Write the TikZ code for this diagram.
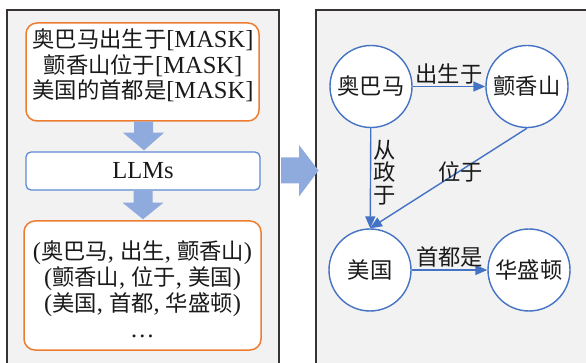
\documentclass[tikz,border=0pt]{standalone}
\usepackage{fontspec}
\setmainfont{Liberation Serif}
\newfontfamily\cjk{Noto Sans CJK SC}[Scale=0.91]
\usetikzlibrary{arrows.meta,calc}
\definecolor{panelc}{HTML}{383333}
\definecolor{panelbg}{HTML}{F2F2F2}
\definecolor{orangec}{HTML}{ED7D31}
\definecolor{lbluec}{HTML}{5B8BD5}
\definecolor{bluec}{HTML}{4472C4}
\definecolor{arrowc}{HTML}{8FAADC}
\definecolor{textc}{HTML}{1A1A1A}
\newcommand{\zhs}[1]{{\cjk #1}}
\begin{document}
\begin{tikzpicture}[x=1pt,y=-1pt,
  panel/.style={draw=panelc, line width=1.3pt, fill=panelbg},
  obox/.style={draw=orangec, line width=1.5pt, fill=white, rounded corners=11pt, inner sep=0pt},
  lbox/.style={draw=lbluec, line width=1.3pt, fill=white, rounded corners=5pt, inner sep=0pt, text=textc, font=\fontsize{24.5}{26}\selectfont},
  lefttext/.style={align=center, text=textc, inner sep=0pt},
  ent/.style={circle, draw=bluec, line width=1.4pt, fill=white, minimum size=82pt, inner sep=0pt, text=textc, font={\cjk\fontsize{24.5}{26}\selectfont}},
  rel/.style={draw=bluec, line width=1.4pt, -{Triangle[length=12pt,width=10pt]}},
  lab/.style={text=textc, inner sep=1pt, font={\cjk\fontsize{24.5}{22.5}\selectfont}},
  barrow/.style={fill=arrowc, draw=none}
]
\useasboundingbox (0,0) rectangle (586,363);
% panels
\path[panel] (7,10) rectangle (279,380);
\path[panel] (316,10) rectangle (600,380);
% big arrow between panels
\fill[barrow] (281,157.5) -- (299,157.5) -- (299,145) -- (318.5,170.5) -- (299,196.5) -- (299,183.5) -- (281,183.5) -- cycle;
% left column
\node[obox, minimum width=233pt, minimum height=98pt] (prompt) at (142.5,72) {};
\node[lefttext, font=\fontsize{24.5}{25.5}\selectfont] (prompttext) at (143,65.5)
  {\zhs{奥巴马出生于}[MASK]\\\zhs{颤香山位于}[MASK]\\\zhs{美国的首都是}[MASK]};
\node[lbox, minimum width=234pt, minimum height=38pt] (llm) at (143,171) {LLMs};
\node[obox, minimum width=237pt, minimum height=129pt] (triples) at (142.5,285.5) {};
\node[lefttext, font=\fontsize{24.5}{26}\selectfont] (triplestext) at (142.5,289)
  {(\zhs{奥巴马}, \zhs{出生}, \zhs{颤香山})\\(\zhs{颤香山}, \zhs{位于}, \zhs{美国})\\(\zhs{美国}, \zhs{首都}, \zhs{华盛顿})\\…};
% block arrows
\fill[barrow] ($(prompt.south)+(-8.5,0)$) -- ($(prompt.south)+(-8.5,11)$) -- ($(prompt.south)+(-19.5,11)$) -- ($(llm.north)+(1,-1)$) -- ($(prompt.south)+(21.5,11)$) -- ($(prompt.south)+(10.5,11)$) -- ($(prompt.south)+(10.5,0)$) -- cycle;
\fill[barrow] ($(llm.south)+(-9.5,0)$) -- ($(llm.south)+(-9.5,12)$) -- ($(llm.south)+(-20.5,12)$) -- ($(triples.north)+(0.5,-1)$) -- ($(llm.south)+(20.5,12)$) -- ($(llm.south)+(9.5,12)$) -- ($(llm.south)+(9.5,0)$) -- cycle;
% right graph
\node[ent] (oba) at (371,86.5) {奥巴马};
\node[ent] (tan) at (527,86.5) {颤香山};
\node[ent] (usa) at (370,270) {美国};
\node[ent] (wash) at (529,270) {华盛顿};
\draw[rel] (oba) -- node[lab, above, yshift=1pt] (l1) {出生于} (tan);
\draw[rel] (oba) -- node[lab, pos=0.44, right, align=center, xshift=1pt] (l2) {从\\政\\于} (usa);
\draw[rel] (tan.south) -- node[lab, pos=0.45, xshift=4pt, yshift=1pt] (l3) {位于} (usa.north);
\draw[rel] (usa) -- node[lab, above, yshift=1pt] (l4) {首都是} (wash);
\end{tikzpicture}
\end{document}
